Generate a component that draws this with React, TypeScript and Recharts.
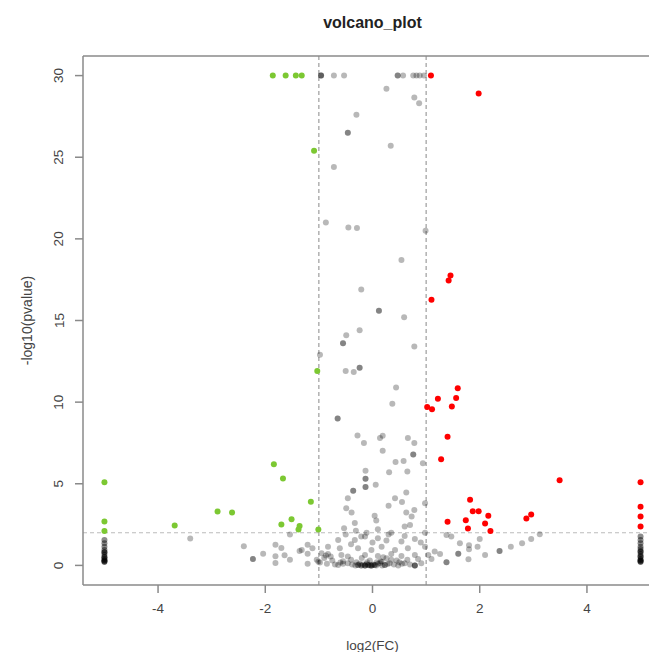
import React from 'react';
import { ScatterChart, Scatter, XAxis, YAxis, ReferenceLine } from 'recharts';

// log2(FC), -log10(pvalue) pairs
const downGenes: [number, number][] = [
  [-1.86, 30], [-1.62, 30], [-1.43, 30], [-1.32, 30],
  [-1.09, 25.4], [-1.03, 11.9],
  [-5, 5.1], [-5, 2.69], [-5, 2.1],
  [-1.84, 6.2], [-1.67, 5.33], [-1.15, 3.9], [-2.89, 3.3], [-2.62, 3.24],
  [-3.69, 2.44], [-1.51, 2.82], [-1.7, 2.5], [-1.36, 2.42], [-1.38, 2.2], [-1.01, 2.2],
];

const upGenes: [number, number][] = [
  [1.09, 30], [1.98, 28.9], [1.455, 17.76], [1.42, 17.45], [1.1, 16.27],
  [1.59, 10.85], [1.56, 10.26], [1.22, 10.2], [1.48, 9.74], [1.02, 9.7], [1.11, 9.56],
  [1.4, 7.88], [1.28, 6.5], [3.49, 5.22],
  [5, 5.1], [5, 3.6], [5, 3.0], [5, 2.38],
  [1.82, 4.02], [1.87, 3.32], [1.98, 3.32], [2.16, 3.04], [1.74, 2.77], [2.1, 2.56],
  [1.78, 2.26], [2.2, 2.1], [2.87, 2.87], [2.96, 3.12], [1.4, 2.67],
];

const nsTop: [number, number][] = [
  [-0.96, 30], [-0.96, 30], [-0.96, 30], [-0.72, 30], [-0.53, 30],
  [0.47, 30], [0.47, 30], [0.57, 30], [0.76, 30], [0.82, 30], [0.88, 30], [0.96, 30],
  [0.26, 29.2], [0.78, 28.66], [0.87, 28.3], [-0.3, 27.6], [-0.46, 26.5], [-0.46, 26.5],
  [0.34, 25.7], [-0.72, 24.4], [-0.87, 21.0], [-0.45, 20.7], [-0.29, 20.66], [0.99, 20.5],
  [0.54, 18.7], [-0.21, 16.9], [0.12, 15.6], [0.12, 15.6], [0.59, 15.2], [-0.24, 14.4],
  [-0.49, 14.1], [-0.55, 13.6], [-0.55, 13.6], [0.78, 13.4], [-0.98, 12.9],
  [-0.5, 11.9], [-0.35, 11.85], [-0.24, 12.1], [-0.24, 12.1], [0.44, 10.9], [0.37, 9.9],
  [-0.65, 9.0], [-0.65, 9.0], [-0.28, 7.96], [-0.16, 7.5], [0.14, 7.8], [0.19, 7.94],
  [0.66, 7.8], [0.78, 7.5], [0.19, 7.02], [0.76, 6.8], [0.76, 6.8], [0.43, 6.33],
  [0.58, 6.4], [0.94, 6.25], [0.31, 5.7], [0.65, 5.75], [-0.13, 5.8], [-0.13, 5.3],
  [-0.13, 5.3], [-0.13, 4.8], [-0.13, 4.8], [0.06, 4.94],
];

const nsMid: [number, number][] = [
  [-0.36, 4.57], [-0.36, 4.57], [-0.46, 4.12], [0.63, 4.47], [0.42, 4.12], [0.55, 3.88],
  [0.98, 3.8], [0.3, 3.65], [-0.49, 3.5], [-0.39, 3.24], [0.63, 3.24], [0.78, 3.4],
  [0.73, 3.0], [0.04, 3.04], [0.07, 2.75], [-0.33, 2.59], [0.6, 2.38], [0.7, 2.48],
  [-0.53, 2.28], [0.1, 2.22], [-0.31, 2.13], [-0.11, 2.0], [0.35, 2.0], [0.98, 2.0],
  [-1.54, 1.9],
];

const nsLow: [number, number][] = [
  [-3.4, 1.65], [-2.4, 1.18], [-2.23, 0.39], [-2.23, 0.39], [-2.04, 0.72],
  [-1.81, 1.26], [-1.81, 0.56], [-1.81, 0.15], [-1.7, 1.07], [-1.64, 0.62], [-1.54, 0.34],
  [-1.36, 0.88], [-1.32, 0.95], [-1.21, 1.26], [-1.21, 0.72], [-1.21, 0.1], [-1.12, 1.05],
  [-1.04, 0.34], [-0.98, 0.18], [-0.87, 0.6], [-0.78, 0.54],
  [-0.14, 1.77], [0.1, 1.67], [0.26, 1.52], [0.54, 1.46], [0.79, 1.61], [-0.64, 1.56],
  [-0.33, 1.56], [-0.21, 1.77],
  [-0.83, 1.15], [-0.61, 1.05], [-0.27, 1.05], [-0.02, 0.95], [0.17, 1.15], [0.42, 0.95],
  [0.66, 1.05], [0.98, 1.15], [1.16, 0.85],
  [-0.95, 0.75], [-0.83, 0.7], [-0.58, 0.64], [-0.46, 0.54], [-0.14, 0.64], [0.1, 0.58],
  [0.35, 0.7], [0.54, 0.58], [0.79, 0.64], [1.04, 0.64], [1.26, 0.7],
  [0.35, 0.34], [0.26, 0.44], [0.17, 0.23],
  [-0.75, 0.3], [-0.55, 0.25], [-0.4, 0.35], [-0.3, 0.2], [-0.05, 0.3], [0.08, 0.2],
  [0.45, 0.3], [0.65, 0.35], [0.85, 0.4], [-0.9, 0.45], [1.1, 0.4], [-0.2, 0.45], [0.2, 0.5],
  [-0.5, 1.9], [-0.4, 1.3], [0.0, 1.4], [0.3, 1.9], [0.6, 1.8], [0.9, 1.4],
  [1.38, 1.87], [1.47, 1.77], [1.63, 1.36], [1.8, 1.24], [1.8, 0.99], [2.0, 1.62],
  [1.96, 1.14], [1.6, 0.71], [1.6, 0.71], [1.38, 0.2], [1.38, 0.2], [1.79, 0.38],
  [2.1, 0.64], [2.37, 0.89], [2.37, 0.89], [2.58, 1.14], [2.79, 1.36], [2.96, 1.62], [3.12, 1.91],
];

// dense band of genes sitting near pvalue = 1
const nsBase: [number, number][] = [
  [-1.01, 0.23], [-0.85, 0.1], [-0.7, 0.05], [-0.64, 0.03], [-0.55, 0.1], [-0.46, 0.13],
  [-0.38, 0.05], [-0.32, 0.0], [-0.27, 0.03], [-0.27, 0.03], [-0.24, 0.1], [-0.21, 0.0],
  [-0.21, 0.0], [-0.18, 0.05], [-0.14, 0.0], [-0.14, 0.0], [-0.14, 0.0], [-0.11, 0.08],
  [-0.08, 0.03], [-0.08, 0.03], [-0.05, 0.0], [-0.02, 0.0], [-0.02, 0.0], [-0.02, 0.0],
  [0.01, 0.05], [0.04, 0.03], [0.04, 0.03], [0.07, 0.0], [0.1, 0.1], [0.14, 0.13],
  [0.18, 0.0], [0.23, 0.03], [0.23, 0.03], [0.28, 0.08], [0.32, 0.13], [0.4, 0.05],
  [0.48, 0.0], [0.55, 0.1], [0.6, 0.13], [0.7, 0.05], [0.79, 0.0], [0.79, 0.0],
  [0.79, 0.0], [0.91, 0.13], [-0.6, 0.18], [0.5, 0.2], [-0.1, 0.2], [0.15, 0.25],
];

const edgeDown: [number, number][] = [
  [-5, 1.56], [-5, 1.35], [-5, 1.15], [-5, 0.95], [-5, 0.8], [-5, 0.8], [-5, 0.65],
  [-5, 0.5], [-5, 0.5], [-5, 0.4], [-5, 0.3], [-5, 0.3], [-5, 0.23], [-5, 0.23],
];
const edgeUp: [number, number][] = [
  [5, 1.77], [5, 1.55], [5, 1.35], [5, 1.15], [5, 1.0], [5, 0.85], [5, 0.85], [5, 0.7],
  [5, 0.55], [5, 0.55], [5, 0.4], [5, 0.3], [5, 0.3], [5, 0.23], [5, 0.23],
];

const xTicks = [-4, -2, 0, 2, 4];
const yTicks = [0, 5, 10, 15, 20, 25, 30];
const fcCut = [-1, 1];
const pCut = 2;

const FONT = '"Liberation Sans", Arial, sans-serif';
const toRows = (pts: [number, number][]) => pts.map(([x, y]) => ({ x, y }));
const nsRows = toRows([...nsTop, ...nsMid, ...nsLow, ...nsBase]);
const edgeRows = toRows([...edgeDown, ...edgeUp]);

const dot = (fill: string, opacity: number) => (props: any) => (
  <circle cx={props.cx} cy={props.cy} r={3} fill={fill} fillOpacity={opacity} />
);

const YTick = (props: any) => {
  const { x, y, payload } = props;
  const cx = x - 14;
  return (
    <text x={cx} y={y} transform={`rotate(-90, ${cx}, ${y})`} textAnchor="middle"
      dominantBaseline="central" fontSize={13.5} fontFamily={FONT} fill="#444">
      {payload.value}
    </text>
  );
};

export default function App() {
  return (
    <div style={{ position: 'absolute', left: 0, top: 0, width: 649, height: 652, overflow: 'hidden', background: '#fff' }}>
      <ScatterChart width={680} height={652} margin={{ top: 0, right: 18, bottom: 0, left: 0 }}>
        <XAxis xAxisId="b" type="number" dataKey="x" domain={[-5.4, 5.4]} ticks={xTicks}
          allowDataOverflow height={67} tickSize={8} tickMargin={10} stroke="#8a8a8a" strokeWidth={1.5}
          tick={{ fill: '#444', fontSize: 13.5, fontFamily: FONT }}
          label={{
            content: ({ viewBox }: any) => (
              <text x={viewBox.x + viewBox.width / 2} y={viewBox.y + 60} textAnchor="middle"
                dominantBaseline="central" fontSize={13.5} fontFamily={FONT} fill="#444">log2(FC)</text>
            ),
          }} />
        <XAxis xAxisId="t" orientation="top" type="number" dataKey="x" domain={[-5.4, 5.4]}
          allowDataOverflow height={56} tick={false} tickLine={false} stroke="#8a8a8a" strokeWidth={1.5}
          label={{
            content: ({ viewBox }: any) => (
              <text x={viewBox.x + viewBox.width / 2} y={viewBox.y + 22} textAnchor="middle"
                dominantBaseline="central" fontSize={16} fontWeight="bold" fontFamily={FONT} fill="#222">volcano_plot</text>
            ),
          }} />
        <YAxis type="number" dataKey="y" domain={[-1.2, 31.2]} ticks={yTicks} allowDataOverflow
          width={83} tickSize={8} stroke="#8a8a8a" strokeWidth={1.5} tick={<YTick />}
          label={{
            content: ({ viewBox }: any) => {
              const cx = viewBox.x + 27;
              const cy = viewBox.y + viewBox.height / 2;
              return (
                <text x={cx} y={cy} transform={`rotate(-90, ${cx}, ${cy})`} textAnchor="middle"
                  dominantBaseline="central" fontSize={14} fontFamily={FONT} fill="#444">-log10(pvalue)</text>
              );
            },
          }} />

        {fcCut.map((v) => (
          <ReferenceLine key={v} xAxisId="b" x={v} stroke="#888" strokeDasharray="4 3" />
        ))}
        <ReferenceLine xAxisId="b" y={pCut} stroke="#bbb" strokeDasharray="4 3" />

        <Scatter xAxisId="b" data={nsRows} shape={dot('#000', 0.28)} isAnimationActive={false} />
        <Scatter xAxisId="b" data={edgeRows} shape={dot('#000', 0.45)} isAnimationActive={false} />
        <Scatter xAxisId="b" data={toRows(downGenes)} shape={dot('#7cc832', 1)} isAnimationActive={false} />
        <Scatter xAxisId="b" data={toRows(upGenes)} shape={dot('#ff0000', 1)} isAnimationActive={false} />
      </ScatterChart>
    </div>
  );
}
